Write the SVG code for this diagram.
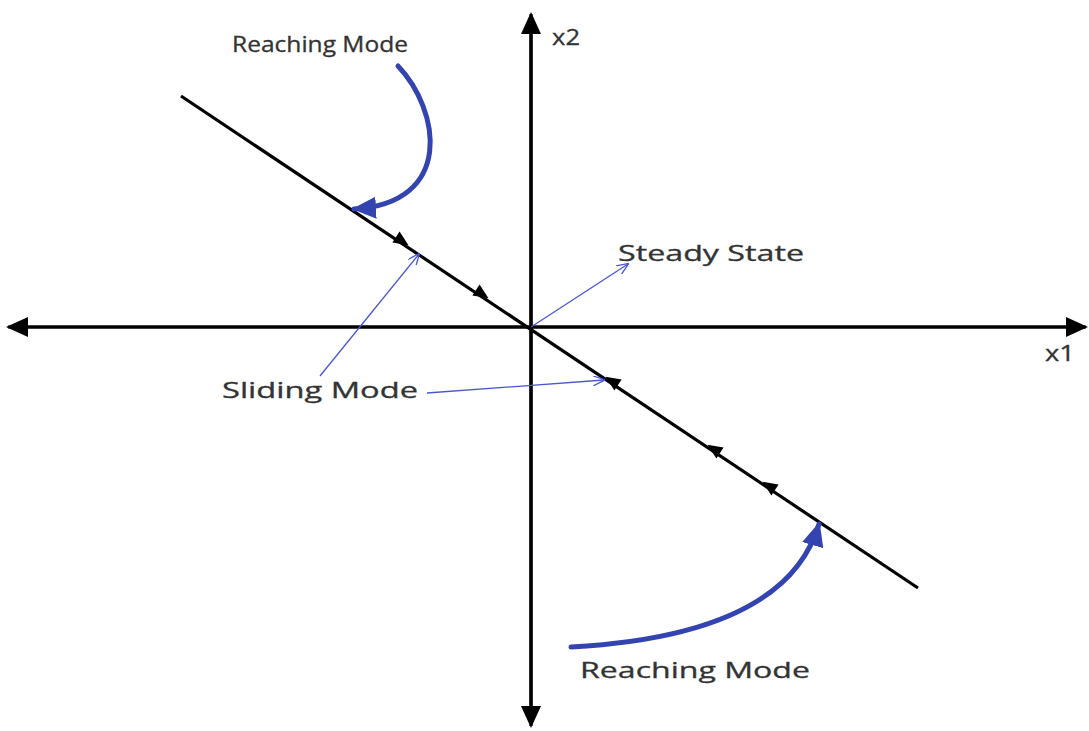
<svg xmlns="http://www.w3.org/2000/svg" width="1089" height="731" viewBox="0 0 1089 731">
<style>
.axis{stroke:#000;stroke-width:3.2;fill:none}
.thick{stroke:#3344b0;stroke-width:5;fill:none;stroke-linecap:round}
.thin{stroke:#4a57d0;stroke-width:1.3;fill:none}
.lbl{font-family:"Open Sans","Liberation Sans",sans-serif;font-size:21px;fill:#333;font-weight:500;stroke:#333;stroke-width:0.3}
</style>
<defs>
<marker id="axb" markerWidth="22" markerHeight="20" refX="20" refY="10" orient="auto" markerUnits="userSpaceOnUse" viewBox="0 0 22 20">
<path d="M0,0 L22,10 L0,20 z" fill="#000"/>
</marker>
<marker id="bl" markerWidth="12" markerHeight="10" refX="11" refY="5" orient="auto" markerUnits="userSpaceOnUse" viewBox="0 0 12 10">
<path d="M0,0 L12,5 L0,10" fill="none" stroke="#4a57d0" stroke-width="1.3"/>
</marker>
<marker id="bb" markerWidth="24" markerHeight="22" refX="22" refY="11" orient="auto" markerUnits="userSpaceOnUse" viewBox="0 0 24 22">
<path d="M0,0 L24,11 L0,22 z" fill="#3344b0"/>
</marker>
</defs>
<g id="axes">
<line class="axis" x1="531" y1="720" x2="531" y2="14" marker-end="url(#axb)"/>
<line class="axis" x1="531" y1="30" x2="531" y2="726" marker-end="url(#axb)"/>
<line class="axis" x1="20" y1="327" x2="1086" y2="327" marker-end="url(#axb)"/>
<line class="axis" x1="1070" y1="327" x2="8" y2="327" marker-end="url(#axb)"/>
</g>
<g id="sliding-line">
<line class="axis" x1="181" y1="96" x2="918" y2="588"/>
<g fill="#000">
<path d="M0,-6.5 L15,0 L0,6.5 z" transform="translate(396,237) rotate(33.7)"/>
<path d="M0,-6.5 L15,0 L0,6.5 z" transform="translate(476,290) rotate(33.7)"/>
<path d="M0,-6.5 L15,0 L0,6.5 z" transform="translate(618,385) rotate(213.7)"/>
<path d="M0,-6.5 L15,0 L0,6.5 z" transform="translate(720,453) rotate(213.7)"/>
<path d="M0,-6.5 L15,0 L0,6.5 z" transform="translate(775,490) rotate(213.7)"/>
</g>
</g>
<g id="connectors">
<path class="thick" d="M398,66 C440,110 455,203 354,209" marker-end="url(#bb)"/>
<path class="thick" d="M571,647 C700,640 795,605 819,524" marker-end="url(#bb)"/>
<line class="thin" x1="320" y1="376" x2="419" y2="254" marker-end="url(#bl)"/>
<line class="thin" x1="427" y1="393" x2="604" y2="380" marker-end="url(#bl)"/>
<line class="thin" x1="531" y1="327" x2="628" y2="264" marker-end="url(#bl)"/>
</g>
<g id="label-reaching-top"><text class="lbl" x="232" y="52" textLength="176" lengthAdjust="spacingAndGlyphs">Reaching Mode</text></g>
<g id="label-x2"><text class="lbl" x="552" y="45" textLength="28" lengthAdjust="spacingAndGlyphs">x2</text></g>
<g id="label-steady"><text class="lbl" x="618" y="261" textLength="186" lengthAdjust="spacingAndGlyphs">Steady State</text></g>
<g id="label-sliding"><text class="lbl" x="222" y="398" textLength="196" lengthAdjust="spacingAndGlyphs">Sliding Mode</text></g>
<g id="label-x1"><text class="lbl" x="1045" y="361" textLength="30" lengthAdjust="spacingAndGlyphs">x1</text></g>
<g id="label-reaching-bottom"><text class="lbl" x="580" y="678" textLength="230" lengthAdjust="spacingAndGlyphs">Reaching Mode</text></g>
</svg>
